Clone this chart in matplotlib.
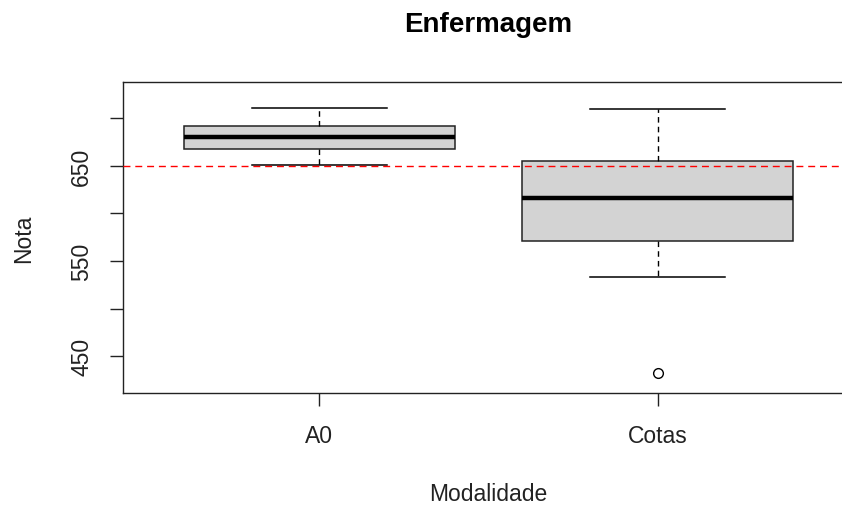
import matplotlib
matplotlib.use('Agg')
import matplotlib.pyplot as plt

plt.rcParams['font.family'] = ['Liberation Sans', 'DejaVu Sans']

modalidades = ['A0', 'Cotas']
q1 = [668, 571]
medianas = [680, 616]
q3 = [692, 655]
whis_lo = [651, 533]
whis_hi = [711, 709]
outliers = [[], [433]]
nota_corte = 650

yticks = [450, 500, 550, 600, 650, 700]
yticklabels = ['450', '', '550', '', '650', '']

stats = []
for i, nome in enumerate(modalidades):
    stats.append({'label': nome, 'q1': q1[i], 'med': medianas[i], 'q3': q3[i],
                  'whislo': whis_lo[i], 'whishi': whis_hi[i], 'fliers': outliers[i]})

fig = plt.figure(figsize=(8.42, 5.10), dpi=100)
ax = fig.add_axes([123 / 842, 1 - 394 / 510, 731 / 842, 311.3 / 510])

ax.bxp(stats, positions=[1, 2], widths=0.8, patch_artist=True,
       boxprops=dict(facecolor='#d3d3d3', edgecolor='#222222', linewidth=1.1),
       medianprops=dict(color='black', linewidth=3.2, solid_capstyle='butt'),
       whiskerprops=dict(color='black', linewidth=1, linestyle=(0, (4, 3))),
       capprops=dict(color='black', linewidth=1.1),
       capwidths=0.4,
       flierprops=dict(marker='o', markerfacecolor='white', markeredgecolor='black',
                       markersize=7, markeredgewidth=1))

ax.axhline(nota_corte, color='red', linewidth=1, linestyle=(0, (5, 3.5)), zorder=5)

ax.set_xlim(0.42, 2.58)
ax.set_ylim(411.5, 738.1)
ax.set_yticks(yticks)
ax.set_yticklabels(yticklabels, rotation=90, va='center')
ax.set_xticks([1, 2])
ax.set_xticklabels(modalidades)
ax.tick_params(axis='both', labelsize=16.5, length=9.5, width=1, color='#222222', labelcolor='#222222')
ax.tick_params(axis='x', pad=13)
ax.tick_params(axis='y', pad=12)
for s in ax.spines.values():
    s.set_linewidth(1)
    s.set_color('#222222')

ax.set_xlabel('Modalidade', fontsize=16.5, color='#222222')
ax.xaxis.set_label_coords(0.5, -(495 - 394) / 311.3)
ax.xaxis.label.set_va('center')
ax.set_ylabel('Nota', fontsize=16.5, color='#222222')
ax.yaxis.set_label_coords(-(123 - 24) / 731, 0.5)
ax.yaxis.label.set_va('center')

fig.text(488 / 842, 1 - 25 / 510, 'Enfermagem', ha='center', va='center',
         fontsize=20, fontweight='bold')

fig.savefig('out.png', dpi=100)
